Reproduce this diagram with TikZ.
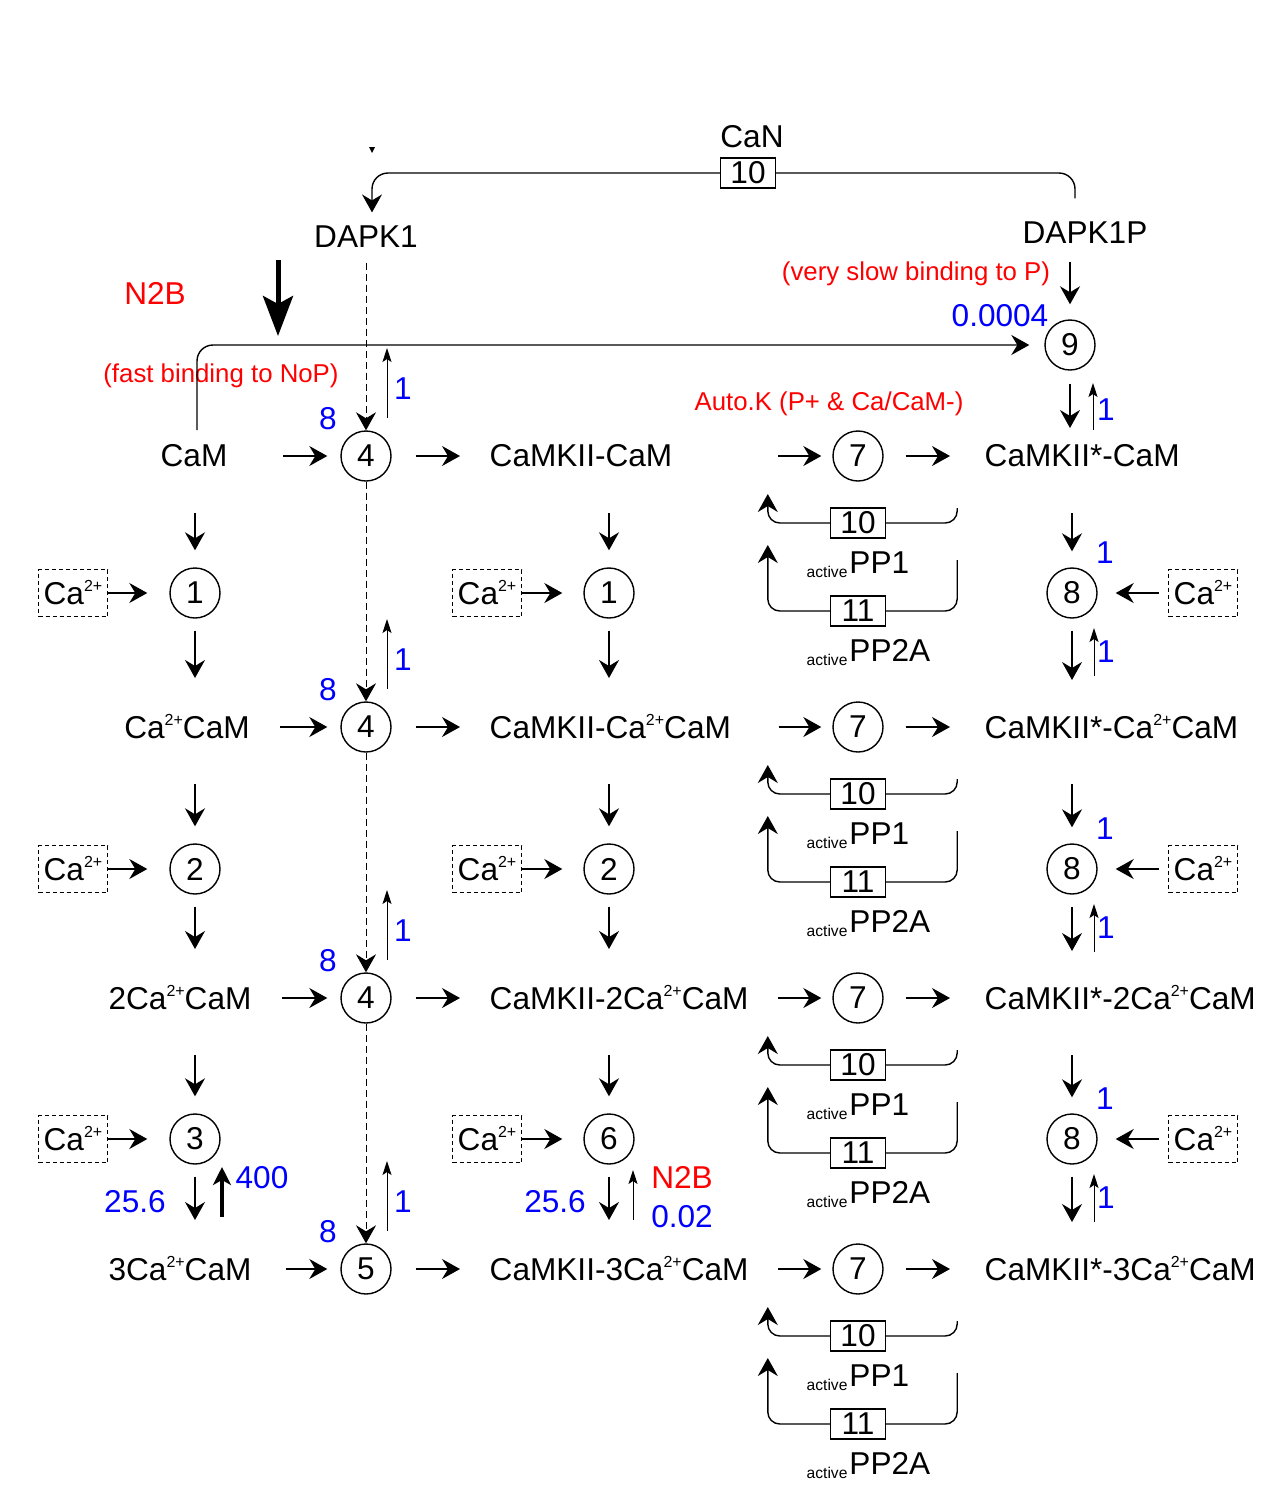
\documentclass[tikz,border=0pt]{standalone}
\usepackage{fontspec}
\setmainfont{Liberation Sans}
\usetikzlibrary{arrows.meta}

\newcommand{\catwo}{Ca\raisebox{6.5pt}{\fontsize{8}{8}\selectfont 2+}}
\newcommand{\actv}[1]{\raisebox{-2pt}{\fontsize{7.8}{8}\selectfont active}\kern1pt#1}

\begin{document}
\begin{tikzpicture}[x=0.5pt,y=-0.5pt,line width=0.7pt,
    font=\fontsize{15.8}{18}\selectfont,
    >={Stealth[length=9pt,width=10pt,inset=3pt]},
    rxn/.style={circle,draw,minimum size=25pt,inner sep=0pt},
    enzbox/.style={draw,fill=white,minimum width=27.5pt,minimum height=15pt,inner sep=0pt},
    cabox/.style={draw,line width=0.6pt,dash pattern=on 2pt off 1.5pt,minimum width=34.5pt,minimum height=23.5pt,inner sep=0pt},
    species/.style={inner sep=0pt},
    note/.style={text=red,font=\fontsize{12.9}{15}\selectfont},
    rate/.style={text=blue},
    thinarr/.style={line width=0.5pt,-{Stealth[length=7pt,width=4.5pt,inset=1.5pt]}},
    dapkline/.style={line width=0.5pt,dash pattern=on 3.5pt off 2pt,->}]
  \useasboundingbox (0,0) rectangle (1280,1500);

  % CaN dephosphorylation of DAPK1P
  \node[species] (can) at (752,137) {CaN};
  \node[enzbox] (canbox) at (748,173) {10};
  \node[species] (dapk) at (366,237) {DAPK1};
  \node[species] (dapkp) at (1085,233) {DAPK1P};
  \fill (369,147) -- (375,147) -- (372,153) -- cycle;
  \draw[rounded corners=8pt] (canbox.east) -| ([xshift=-5pt,yshift=11.5pt]dapkp.north);
  \draw[->,rounded corners=8pt,shorten >=6.5pt] (canbox.west) -| ([xshift=3pt]dapk.north);

  % species rows: CaM forms, CaMKII-CaM forms, CaMKII*-CaM forms
  \foreach \n/\y/\lx/\lab/\mlab/\rlab/\cn/\da/\db in {
    1/456/194/{CaM}/{CaMKII-CaM}/{CaMKII*-CaM}/4/27.5/52.5,
    2/727/187/{\catwo CaM}/{CaMKII-\catwo CaM}/{CaMKII*-\catwo CaM}/4/15/23.5,
    3/998/180/{2\catwo CaM}/{CaMKII-2\catwo CaM}/{CaMKII*-2\catwo CaM}/4/15/14.5,
    4/1269/180/{3\catwo CaM}/{CaMKII-3\catwo CaM}/{CaMKII*-3\catwo CaM}/5/17/14.5}{
    \node[species] (L\n) at (\lx,\y) {\lab};
    \node[rxn] (A\n) at (366,\y) {\cn};
    \node[species,anchor=west] (M\n) at (489,\y) {\mlab};
    \node[rxn] (K\n) at (858,\y) {7};
    \node[species,anchor=west] (R\n) at (984,\y) {\rlab};
    \draw[->,shorten <=\da pt,shorten >=6.5pt] (L\n) -- (A\n);
    \draw[->,shorten <=12pt,shorten >=14.5pt] (A\n) -- (M\n);
    \draw[->,shorten <=\db pt,shorten >=5.5pt] (M\n) -- (K\n);
    \draw[->,shorten <=11pt,shorten >=17pt] (K\n) -- (R\n);
    % DAPK1 rates
    \node[rate] (kf\n) at ([shift={(-38,-37)}]A\n.center) {8};
    \node[rate] (kb\n) at ([shift={(37,-67)}]A\n.center) {1};
    \draw[thinarr] ([shift={(21,-38)}]A\n.center) -- ([shift={(21,-108)}]A\n.center);
    % phosphatases
    \node[enzbox] (P\n) at (858,\y+67) {10};
    \node[enzbox] (Q\n) at (858,\y+155) {11};
    \node[species,anchor=base west] (pp\n) at (806,\y+117) {\actv{PP1}};
    \node[species,anchor=base west] (pq\n) at (806,\y+205) {\actv{PP2A}};
    \draw[->,rounded corners=6pt] (P\n.west) -| ++(-62,-29);
    \draw[rounded corners=6pt] (P\n.east) -| ++(71,-15);
    \draw[->,rounded corners=6pt] (Q\n.west) -| ++(-62,-66);
    \draw[rounded corners=6pt] (Q\n.east) -| ++(71,-51);
  }

  % DAPK1 binding (dashed)
  \draw[dapkline,shorten <=7pt] (dapk) -- (A1);
  \foreach \a/\b in {1/2,2/3,3/4}
    \draw[dapkline] (A\a) -- (A\b);

  % Ca2+ binding steps
  \foreach \k/\n/\cy/\lc/\mc in {1/2/593/1/1, 2/3/869/2/2, 3/4/1139/3/6}{
    \node[rxn] (cl\k) at (195,\cy) {\lc};
    \node[rxn] (cm\k) at (609,\cy) {\mc};
    \node[rxn] (cr\k) at (1072,\cy) {8};
    \node[cabox] (zl\k) at (73,\cy) {\catwo};
    \node[cabox] (zm\k) at (487,\cy) {\catwo};
    \node[cabox] (zr\k) at (1203,\cy) {\catwo};
    \draw[->,shorten >=11pt] (zl\k) -- (cl\k);
    \draw[->,shorten >=10.5pt] (zm\k) -- (cm\k);
    \draw[->,shorten <=4.5pt,shorten >=9pt] (zr\k) -- (cr\k);
    \draw[->,shorten <=28.5pt,shorten >=8.5pt] (cl\k |- L\k) -- (cl\k);
    \draw[->,shorten <=28.5pt,shorten >=8.5pt] (cm\k |- M\k) -- (cm\k);
    \draw[->,shorten <=28.5pt,shorten >=8pt] (cr\k |- R\k) -- (cr\k);
    \draw[->,shorten <=6pt,shorten >=24.5pt] (cl\k) -- (cl\k |- L\n);
    \draw[->,shorten <=6pt,shorten >=24.5pt] (cm\k) -- (cm\k |- M\n);
    \draw[->,shorten <=6pt,shorten >=23.5pt] (cr\k) -- (cr\k |- R\n);
    \draw[thinarr] ([shift={(22,83)}]cr\k.center) -- ([shift={(22,35)}]cr\k.center);
    \node[rate] (ka\k) at ([shift={(33,-40)}]cr\k.center) {1};
    \node[rate] (kd\k) at ([shift={(34,59)}]cr\k.center) {1};
  }

  % last Ca2+ step
  \node[rate] (k3f) at (135,1202) {25.6};
  \node[rate] (k3b) at (262,1178) {400};
  \draw[line width=1.8pt,-{Stealth[length=9pt,width=9pt,inset=2.5pt]}] ([shift={(27,78)}]cl3.center) -- ([shift={(27,28)}]cl3.center);
  \node[rate] (k6f) at (555,1202) {25.6};
  \node[text=red] (n2bb) at (682,1177) {N2B};
  \node[rate] (k6b) at (682,1217) {0.02};
  \draw[thinarr] ([shift={(24,81)}]cm3.center) -- ([shift={(24,31)}]cm3.center);

  % DAPK1P binding
  \node[rxn] (c9) at (1070,345) {9};
  \node[note] (slow) at (916,274) {(very slow binding to P)};
  \node[rate] (k9) at (1000,316) {0.0004};
  \draw[->,shorten <=8.5pt,shorten >=7.5pt] (dapkp.south -| c9) -- (c9);
  \draw[->,shorten <=6.5pt,shorten >=14pt] (c9) -- (c9 |- R1);
  \draw[thinarr] ([shift={(23,85)}]c9.center) -- ([shift={(23,38)}]c9.center);
  \node[rate] (k9b) at (1106,410) {1};

  % N2B
  \node[text=red] (n2b) at (155,293) {N2B};
  \node[note] (fast) at (221,376) {(fast binding to NoP)};
  \coordinate (n2bs) at (278,260);
  \coordinate (n2be) at (278,336);
  \draw[line width=2.5pt,-{Stealth[length=20pt,width=15pt,inset=4pt]}] (n2bs) -- (n2be);
  \draw[->,rounded corners=8pt,shorten <=7pt,shorten >=7.5pt] ([xshift=1.5pt]L1.north) |- (c9);
  \node[note] (autok) at (829,404) {Auto.K (P+ \& Ca/CaM-)};
\end{tikzpicture}
\end{document}
